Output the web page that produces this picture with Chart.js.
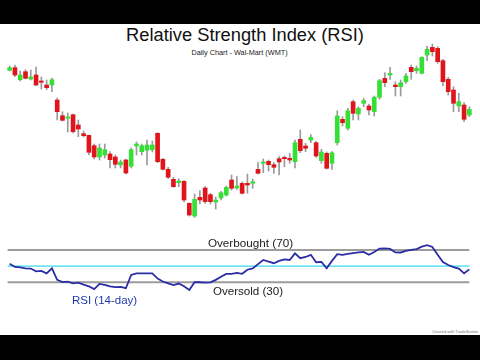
<!DOCTYPE html>
<html>
<head>
<meta charset="utf-8">
<script src="https://cdn.jsdelivr.net/npm/chart.js@4"></script>
<style>
  html, body { margin: 0; padding: 0; background: #fff; }
  #page { position: relative; width: 480px; height: 360px; overflow: hidden; background: #fff;
    font-family: "Liberation Sans", Arial, sans-serif; }
  .bar { position: absolute; left: 0; width: 480px; background: #000; }
  .txt { position: absolute; white-space: nowrap; }
  canvas { position: absolute; left: 0; }
</style>
</head>
<body>
<div id="page">
  <div class="bar" style="top:0;height:24px;"></div>
  <div class="txt" style="left:0;width:490px;top:25px;text-align:center;font-size:18.3px;line-height:20px;color:#111;">Relative Strength Index (RSI)</div>
  <div class="txt" style="left:0;width:479px;top:48px;text-align:center;font-size:7.3px;line-height:9px;color:#222;">Daily Chart - Wal-Mart (WMT)</div>
  <canvas id="priceChart" width="480" height="180" style="top:40px;"></canvas>
  <canvas id="rsiChart" width="480" height="64" style="top:234px;"></canvas>
  <div class="txt" style="left:0;width:501px;top:236px;text-align:center;font-size:11.7px;line-height:14px;color:#222;">Overbought (70)</div>
  <div class="txt" style="left:0;width:496px;top:284px;text-align:center;font-size:11.6px;line-height:14px;color:#222;">Oversold (30)</div>
  <div class="txt" style="left:72px;top:293px;font-size:11.5px;line-height:14px;color:#1f3aa8;">RSI (14-day)</div>
  <div class="txt" style="left:430px;top:329px;width:50px;height:6px;font-size:4px;line-height:6px;color:#777;text-align:center;">Created with TradeStation</div>
  <div class="bar" style="top:335px;height:25px;"></div>
</div>
<script>
'use strict';

var opens = [
  54.97, 55.23, 54.03, 54.83, 54.1, 54.5, 53.9, 53.5, 53.5, 52.0,
  50.43, 50.17, 50.53, 49.5, 48.63, 48.47, 47.43, 46.3, 46.5, 46.6,
  46.3, 45.5, 46.0, 45.37, 47.4, 46.83, 46.97, 47.03, 48.67, 46.07,
  45.07, 44.07, 43.73, 43.87, 41.67, 40.4, 42.27, 43.2, 42.53, 41.8,
  42.2, 42.5, 44.0, 43.2, 43.67, 43.67, 43.67, 45.07, 45.67, 45.87,
  45.53, 46.13, 46.27, 46.17, 45.83, 48.07, 47.4, 48.0, 47.73, 45.93,
  46.67, 45.67, 47.73, 50.07, 49.17, 51.83, 50.6, 51.67, 51.4, 50.83,
  52.27, 54.17, 54.5, 53.5, 53.33, 53.83, 55.27, 54.93, 54.67, 56.5,
  57.27, 57.17, 55.93, 54.07, 53.0, 51.4, 51.5, 50.5
];
var highs = [
  55.4, 55.5, 54.9, 55.03, 55.0, 55.3, 54.3, 54.0, 54.2, 52.2,
  50.83, 50.7, 50.6, 50.0, 48.9, 48.5, 47.6, 47.6, 47.6, 46.83,
  46.5, 46.0, 46.1, 47.2, 47.8, 47.6, 48.0, 47.9, 48.73, 46.17,
  45.27, 44.27, 44.13, 43.93, 41.73, 42.6, 42.93, 43.33, 42.67, 42.3,
  42.87, 43.4, 44.5, 44.33, 43.8, 44.6, 44.1, 45.73, 46.1, 46.0,
  45.73, 46.33, 46.4, 46.67, 48.0, 49.0, 47.67, 48.53, 47.87, 47.07,
  46.8, 46.83, 50.93, 50.33, 51.17, 52.0, 51.33, 52.17, 51.6, 52.4,
  54.07, 54.73, 55.27, 53.83, 54.0, 54.67, 55.5, 55.4, 56.33, 57.4,
  57.6, 57.33, 56.07, 54.27, 53.33, 52.67, 51.73, 51.33
];
var lows = [
  54.9, 54.33, 53.9, 54.1, 54.0, 53.43, 53.1, 53.03, 52.83, 50.0,
  49.9, 48.8, 48.7, 48.33, 48.3, 46.5, 46.1, 46.0, 46.2, 45.2,
  45.2, 45.2, 44.6, 45.2, 46.5, 46.5, 45.5, 46.8, 45.73, 45.0,
  44.17, 43.27, 43.33, 41.8, 40.4, 40.27, 41.6, 41.67, 41.6, 41.1,
  42.0, 42.4, 43.0, 43.07, 42.6, 42.67, 43.17, 44.6, 44.73, 44.9,
  44.67, 44.5, 45.33, 45.67, 45.2, 46.73, 46.83, 47.73, 46.27, 45.67,
  45.1, 45.07, 47.5, 49.4, 49.0, 50.0, 50.0, 51.33, 50.5, 50.4,
  52.07, 53.33, 54.07, 52.4, 52.4, 53.67, 54.07, 54.67, 54.6, 55.93,
  56.4, 55.67, 53.4, 52.5, 50.83, 50.83, 49.83, 50.33
];
var closes = [
  55.23, 54.5, 54.5, 54.17, 54.3, 53.5, 53.77, 53.23, 54.03, 50.83,
  49.97, 50.3, 48.83, 49.1, 48.43, 46.77, 46.3, 47.2, 47.03, 46.03,
  45.57, 45.8, 44.7, 47.03, 47.6, 47.43, 47.5, 47.5, 45.83, 45.07,
  44.27, 43.33, 43.9, 42.0, 40.5, 42.07, 42.0, 41.83, 41.83, 42.0,
  42.73, 43.27, 43.17, 43.4, 42.67, 43.5, 43.83, 44.67, 45.8, 45.53,
  45.27, 45.8, 46.13, 46.0, 47.73, 46.93, 47.17, 48.27, 46.4, 46.8,
  45.17, 46.73, 50.4, 49.73, 50.93, 50.67, 51.17, 51.93, 51.0, 52.27,
  53.93, 53.73, 54.67, 53.33, 53.73, 54.4, 54.83, 55.17, 56.27, 57.07,
  56.83, 55.83, 53.83, 52.83, 51.67, 51.83, 50.07, 51.07
];
var rsiValues = [
  53, 49, 48.5, 47.3, 47, 43.5, 44, 41, 47.3, 33,
  30.2, 30.8, 28.7, 29.5, 27, 25, 21.5, 27.9, 26.9, 25,
  24, 24.3, 22.6, 39, 41, 41.1, 41.1, 41.1, 34.5, 30.9,
  28.7, 26.6, 28.4, 25, 20.5, 30, 30, 29.6, 29.8, 33,
  36.8, 40.3, 40.3, 41.5, 40.5, 45.5, 47.2, 52.5, 57.6, 55.5,
  53.6, 56.5, 58.4, 57.6, 65.8, 59.8, 61.3, 64, 54.8, 55.2,
  47.3, 56.5, 64.8, 63.9, 65.2, 66.2, 67, 67.6, 64, 67.5,
  71.8, 72.1, 71.3, 67, 66.9, 68.8, 70.1, 71, 74.1, 75.9,
  73.8, 64, 55, 51.4, 48.8, 46.9, 41.1, 46
];
var rsiLevels = [70, 50, 30];

(function() {
  var UP = '#35e035';
  var DOWN = '#e0151c';
  var WICK = '#9a9a9a';

  var labels = opens.map(function(v, i) { return i + 1; });
  var bodies = opens.map(function(o, i) { return [o, closes[i]]; });
  var wicks = lows.map(function(l, i) { return [l, highs[i]]; });
  var bodyColors = opens.map(function(o, i) { return closes[i] >= o ? UP : DOWN; });

  var pad = { left: 7, right: 8, top: 0, bottom: 0 };

  new Chart(document.getElementById('priceChart'), {
    type: 'bar',
    data: {
      labels: labels,
      datasets: [{
        data: bodies,
        backgroundColor: bodyColors,
        barThickness: 4,
        grouped: false,
        order: 1
      }, {
        data: wicks,
        backgroundColor: WICK,
        barThickness: 1,
        grouped: false,
        order: 2
      }]
    },
    options: {
      responsive: false,
      animation: false,
      layout: { padding: pad },
      plugins: { legend: { display: false }, tooltip: { enabled: false } },
      scales: {
        x: { display: false, offset: true },
        y: { display: false, min: 40, max: 58 }
      }
    }
  });

  var levelLines = {
    id: 'levelLines',
    beforeDatasetsDraw: function(chart) {
      var ctx = chart.ctx;
      var xs = chart.scales.x;
      var ys = chart.scales.y;
      var x0 = xs.getPixelForValue(0) - 2;
      var x1 = xs.getPixelForValue(labels.length - 1);
      ctx.save();
      rsiLevels.forEach(function(lv) {
        var y = ys.getPixelForValue(lv);
        ctx.beginPath();
        ctx.strokeStyle = lv === 50 ? '#6fe4f2' : '#9c9c9c';
        ctx.lineWidth = lv === 50 ? 1.6 : 2;
        ctx.moveTo(x0, y);
        ctx.lineTo(x1, y);
        ctx.stroke();
      });
      ctx.restore();
    }
  };

  new Chart(document.getElementById('rsiChart'), {
    type: 'line',
    data: {
      labels: labels,
      datasets: [{
        data: rsiValues,
        borderColor: '#2c2ca6',
        borderWidth: 1.8,
        pointRadius: 0,
        tension: 0,
        fill: false
      }]
    },
    options: {
      responsive: false,
      animation: false,
      layout: { padding: pad },
      plugins: { legend: { display: false }, tooltip: { enabled: false } },
      scales: {
        x: { display: false, offset: true },
        y: { display: false, min: 10.5, max: 89.8 }
      }
    },
    plugins: [levelLines]
  });
})();
</script>
</body>
</html>
